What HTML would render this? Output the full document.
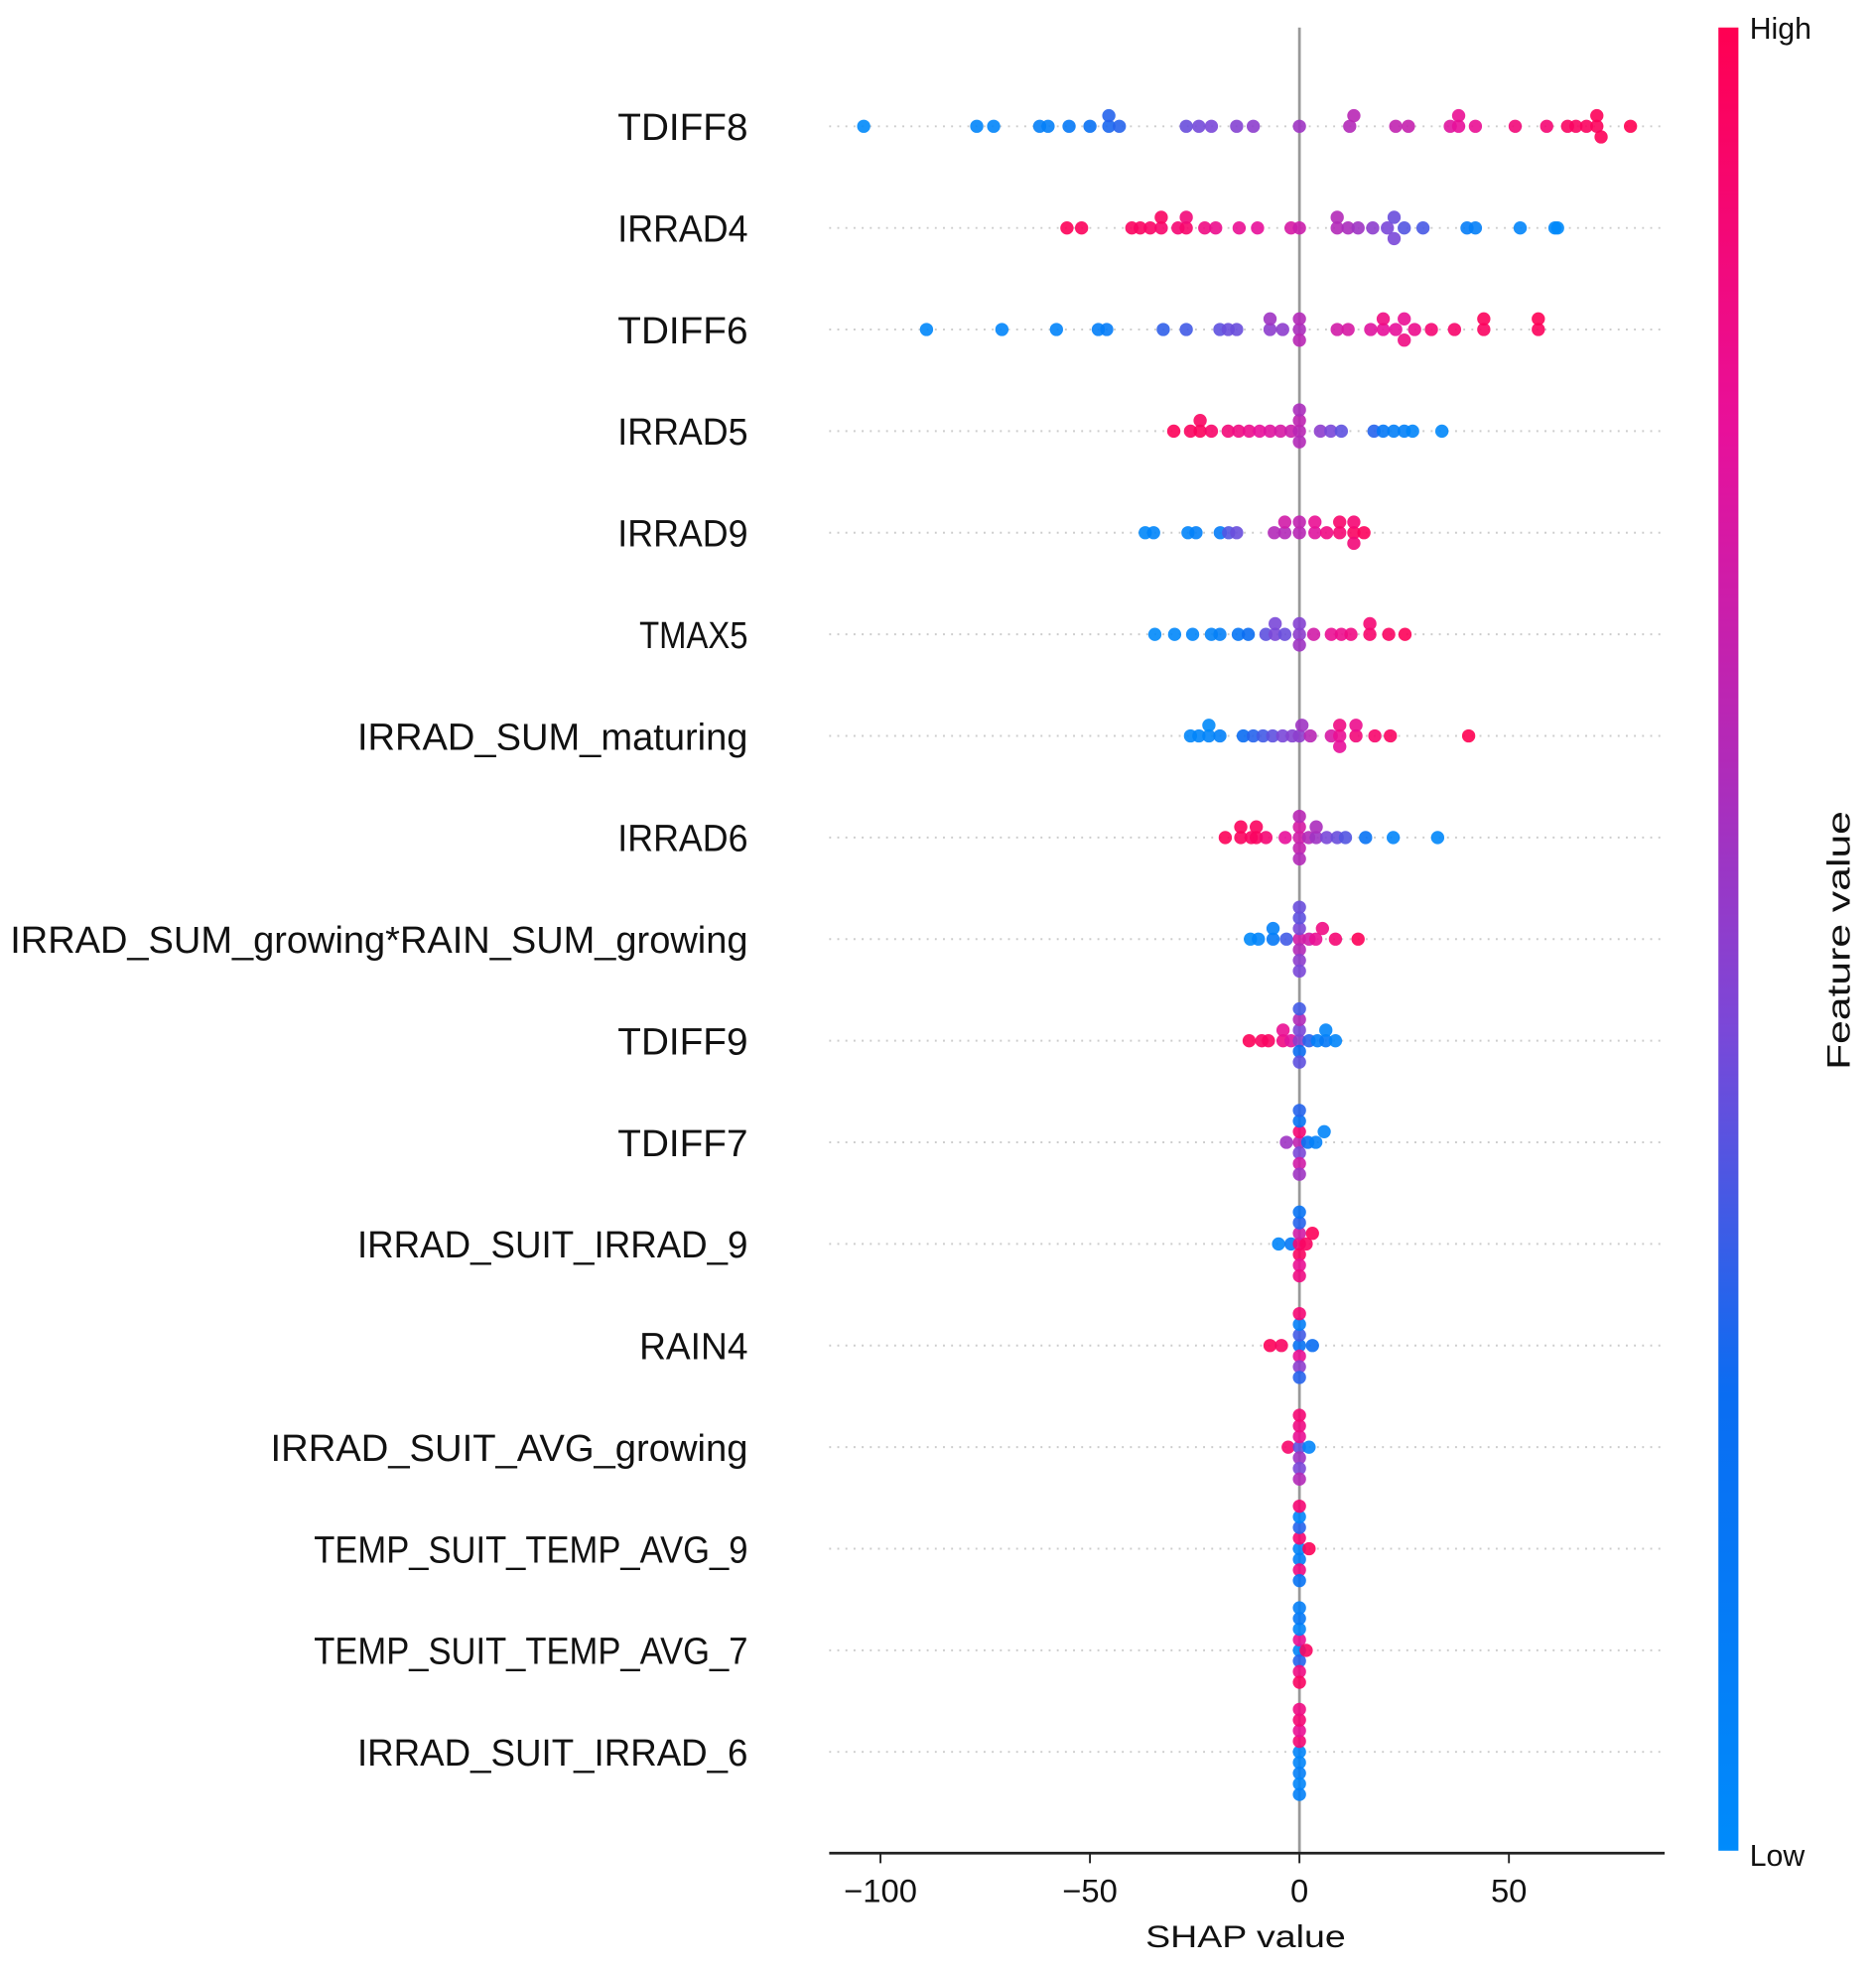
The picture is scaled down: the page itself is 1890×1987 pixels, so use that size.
<!DOCTYPE html>
<html><head><meta charset="utf-8"><style>
html,body{margin:0;padding:0;background:#fff;}
svg{display:block;}
text{font-family:"Liberation Sans","Noto Sans CJK SC",sans-serif;fill:#111;}
</style></head><body>
<svg id="chart" width="1890" height="1987" viewBox="0 0 1500 1577" xmlns="http://www.w3.org/2000/svg">
<defs>
<linearGradient id="cbar" x1="0" y1="1" x2="0" y2="0">
<stop offset="0" stop-color="#008bfb"/>
<stop offset="0.25" stop-color="#0a6df2"/>
<stop offset="0.45" stop-color="#7a48d8"/>
<stop offset="0.6" stop-color="#b22ab8"/>
<stop offset="0.78" stop-color="#e8109a"/>
<stop offset="1" stop-color="#ff0052"/>
</linearGradient>
</defs>
<g id="grid"></g>
<line x1="1039" y1="22" x2="1039" y2="1482" stroke="#999" stroke-width="2.2"/>
<g id="dots"></g>
<g id="labels"></g>
<g id="xaxis"></g>
<rect x="1374" y="22" width="16" height="1458" fill="url(#cbar)"/>
<text x="1399" y="31" font-size="24">High</text>
<text x="1399" y="1492" font-size="24">Low</text>
<text transform="translate(1479,752) rotate(-90)" text-anchor="middle" font-size="26" textLength="207" lengthAdjust="spacingAndGlyphs">Feature value</text>
<text x="996" y="1557" text-anchor="middle" font-size="25" textLength="160" lengthAdjust="spacingAndGlyphs">SHAP value</text>
</svg>
<script>
const categories = ["TDIFF8","IRRAD4","TDIFF6","IRRAD5","IRRAD9","TMAX5","IRRAD_SUM_maturing","IRRAD6","IRRAD_SUM_growing*RAIN_SUM_growing","TDIFF9","TDIFF7","IRRAD_SUIT_IRRAD_9","RAIN4","IRRAD_SUIT_AVG_growing","TEMP_SUIT_TEMP_AVG_9","TEMP_SUIT_TEMP_AVG_7","IRRAD_SUIT_IRRAD_6"];
const xTicks = [-100,-50,0,50];
const shapValues = [
 [-104,-77,-73,-62,-60,-55,-50,-45.5,-45.5,-43,-27,-24,-21,-15,-11,0,12,13,23,26,36,38,38,42,51.5,59,64,66,68.5,71,71,72,79],
 [-55.5,-52,-40,-38,-35.6,-33,-33,-29,-27,-27,-22.6,-20,-14.4,-10,-2,0,9,9,11.6,14,17.5,21,22.6,22.6,25,29.5,40,42,52.7,61,61.6],
 [-89,-71,-58,-48,-46,-32.5,-27,-19,-17,-15,-7,-7,-4,0,0,0,9,11.6,17,20,20,23,25,25,27.5,31.5,37,44,44,57,57],
 [-30,-26,-23.7,-23.7,-21,-17,-14.5,-12,-9.5,-7,-4.5,-2,0,0,0,0,5,7.5,10,17.8,20,22.5,25,27,34],
 [-36.8,-34.8,-26.6,-24.7,-18.9,-16.9,-15,-6,-3.5,-3.5,0,0,3.7,3.7,6.5,9.6,9.6,13,13,13,15.4],
 [-34.5,-29.8,-25.5,-21,-19,-14.6,-12.2,-8,-5.8,-5.8,-3.5,0,0,0,3.4,7.6,10,12.3,16.8,16.8,21.3,25.2],
 [-26,-24,-21.6,-21.6,-19,-13.4,-11,-8.7,-6.4,-4,-1.7,0,0.6,2.6,7.6,9.6,9.6,9.6,13.5,13.5,18,21.7,40.4],
 [-17.7,-14,-14,-11.5,-10.3,-10.3,-8,-3.4,0,0,0,0,0,2.2,4,4,6.5,9,11,15.8,22.4,33],
 [-11.7,-9.8,-6.3,-6.3,-3.1,0,0,0,0,0,0,0,2.3,3.9,5.5,8.6,14],
 [-12,-9,-7.4,-3.9,-3.9,-2,0,0,0,0,0,0,2.3,4.3,6.3,6.3,8.6],
 [-3.1,0,0,0,0,0,0,0,2,3.9,5.9],
 [-5,-2,0,0,0,0,0,0,0,1.6,3.1],
 [-7,-4.3,0,0,0,0,0,0,0,3.1],
 [-2.7,0,0,0,0,0,0,0,2.3],
 [0,0,0,0,0,0,0,0,2.3],
 [0,0,0,0,0,0,0,0,1.6],
 [0,0,0,0,0,0,0,0,0]
];
const featureValues = [
 [.02,.05,.05,.1,.1,.15,.22,.28,.3,.3,.42,.44,.45,.48,.5,.55,.6,.62,.65,.66,.75,.78,.8,.8,.88,.9,.95,.95,.96,.97,.98,.98,1],
 [.98,.97,.96,.95,.94,.92,.95,.9,.92,.88,.85,.82,.8,.78,.72,.68,.6,.6,.58,.55,.5,.45,.42,.45,.38,.36,.12,.1,.05,.03,.02],
 [.03,.05,.06,.1,.12,.32,.35,.4,.42,.42,.5,.55,.5,.58,.6,.62,.7,.72,.75,.78,.85,.78,.8,.85,.82,.9,.92,.95,.97,.97,.99],
 [.98,.96,.97,.95,.93,.88,.85,.82,.78,.75,.72,.68,.62,.64,.6,.58,.5,.45,.4,.3,.15,.1,.08,.05,.03],
 [.03,.05,.05,.08,.12,.38,.42,.6,.6,.7,.62,.65,.75,.8,.85,.9,.92,.95,.9,.88,.97],
 [.02,.03,.05,.07,.1,.18,.25,.4,.45,.45,.42,.5,.48,.55,.7,.8,.82,.85,.92,.9,.95,.98],
 [.04,.05,.06,.02,.08,.25,.3,.35,.4,.45,.48,.5,.55,.62,.72,.8,.85,.78,.88,.82,.92,.95,1],
 [.98,.96,.97,.95,.95,.96,.9,.78,.7,.72,.66,.62,.6,.6,.55,.58,.45,.42,.38,.2,.05,.03],
 [.02,.05,.15,.08,.35,.7,.45,.6,.4,.5,.42,.45,.7,.8,.85,.9,.98],
 [.98,.95,.95,.85,.8,.75,.5,.45,.25,.6,.4,.35,.3,.1,.15,.05,.05],
 [.55,.65,.9,.45,.2,.7,.3,.55,.2,.08,.05],
 [.05,.15,.9,.7,.95,.3,.8,.2,.85,.95,.98],
 [.98,.95,.2,.35,.8,.1,.5,.9,.3,.25],
 [.92,.4,.8,.55,.85,.45,.9,.6,.05],
 [.05,.9,.1,.3,.85,.05,.2,.9,.98],
 [.05,.8,.3,.05,.85,.15,.95,.1,.95],
 [.05,.9,.05,.8,.1,.9,.05,.85,.08]
];

const NS = "http://www.w3.org/2000/svg";
const X0 = 1039, PXU = 3.35, ROW0 = 101, ROWH = 81.25;
function xScale(v){ return X0 + v*PXU; }
function yRow(i){ return ROW0 + i*ROWH; }
const stops = [[0,[0,139,251]],[0.25,[10,109,242]],[0.45,[122,72,216]],[0.6,[178,42,184]],[0.78,[232,16,154]],[1,[255,0,82]]];
function colorOf(f){
  for(let k=1;k<stops.length;k++){
    if(f<=stops[k][0]){
      const a=stops[k-1],b=stops[k],t=(f-a[0])/(b[0]-a[0]);
      const c=a[1].map((v,j)=>Math.round(v+(b[1][j]-v)*t));
      return "rgb("+c.join(",")+")";
    }
  }
  return "rgb(255,0,82)";
}
const grid=document.getElementById("grid"), dots=document.getElementById("dots"), labels=document.getElementById("labels"), xaxis=document.getElementById("xaxis");
categories.forEach((name,i)=>{
  const y=yRow(i);
  const gl=document.createElementNS(NS,"line");
  gl.setAttribute("x1",663);gl.setAttribute("x2",1330);gl.setAttribute("y1",y);gl.setAttribute("y2",y);
  gl.setAttribute("stroke","#ccc");gl.setAttribute("stroke-width","1.5");gl.setAttribute("stroke-dasharray","1.5,5");
  
  
  grid.appendChild(gl);
  const t=document.createElementNS(NS,"text");
  t.setAttribute("x",598);t.setAttribute("y",y+11);t.setAttribute("text-anchor","end");t.setAttribute("font-size","30");
  t.setAttribute("textLength",(name.length*17.35).toFixed(1));t.setAttribute("lengthAdjust","spacingAndGlyphs");
  t.textContent=name;
  
  
  labels.appendChild(t);
  const vals=shapValues[i], fv=featureValues[i];
  const bins={};
  vals.forEach((v,j)=>{
    const b=Math.round(v/2.4);
    const n=bins[b]||0; bins[b]=n+1;
    const lvl=n===0?0:(n%2===1?-Math.ceil(n/2):Math.ceil(n/2));
    const c=document.createElementNS(NS,"circle");
    c.setAttribute("cx",xScale(v).toFixed(1));c.setAttribute("cy",(y+lvl*8.5).toFixed(1));c.setAttribute("r","5.3");
    c.setAttribute("fill",colorOf(fv[j]));c.setAttribute("fill-opacity","0.9");
    
    
    dots.appendChild(c);
  });
});
const ax=document.createElementNS(NS,"line");
ax.setAttribute("x1",663);ax.setAttribute("x2",1331);ax.setAttribute("y1",1482);ax.setAttribute("y2",1482);
ax.setAttribute("stroke","#222");ax.setAttribute("stroke-width","2.2");


xaxis.appendChild(ax);
xTicks.forEach(v=>{
  const x=xScale(v);
  const tk=document.createElementNS(NS,"line");
  tk.setAttribute("x1",x);tk.setAttribute("x2",x);tk.setAttribute("y1",1482);tk.setAttribute("y2",1490);
  tk.setAttribute("stroke","#222");tk.setAttribute("stroke-width","1.5");
  
  
  xaxis.appendChild(tk);
  const tl=document.createElementNS(NS,"text");
  tl.setAttribute("x",x);tl.setAttribute("y",1521);tl.setAttribute("text-anchor","middle");tl.setAttribute("font-size","26");
  tl.textContent=(v<0?"\u2212"+(-v):String(v));
  
  
  xaxis.appendChild(tl);
});
</script>
</body></html>
